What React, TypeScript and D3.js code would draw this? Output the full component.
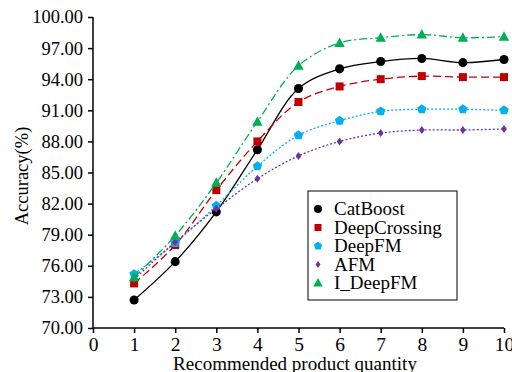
import React, { useEffect, useRef } from 'react';
import * as d3 from 'd3';

const quantities = [1, 2, 3, 4, 5, 6, 7, 8, 9, 10];
const catBoost = [72.7, 76.4, 81.2, 87.2, 93.1, 95.0, 95.7, 96.0, 95.6, 95.9];
const deepCrossing = [74.3, 78.0, 83.3, 88.0, 91.8, 93.3, 94.0, 94.3, 94.2, 94.2];
const deepFM = [75.2, 78.2, 81.8, 85.6, 88.6, 90.0, 90.9, 91.1, 91.1, 91.0];
const afm = [74.7, 78.3, 81.5, 84.4, 86.6, 88.0, 88.8, 89.1, 89.1, 89.2];
const iDeepFM = [74.9, 78.9, 84.0, 89.9, 95.3, 97.5, 98.0, 98.3, 98.0, 98.1];
const seriesNames = ['CatBoost', 'DeepCrossing', 'DeepFM', 'AFM', 'I_DeepFM'];
const xTicks = [0, 1, 2, 3, 4, 5, 6, 7, 8, 9, 10];
const yTicks = [70, 73, 76, 79, 82, 85, 88, 91, 94, 97, 100];

const FONT = '"Liberation Serif", "Times New Roman", serif';

// marker path generators, centred on 0,0
function markerPath(kind: string, s: number) {
  if (kind === 'circle') return d3.symbol(d3.symbolCircle, s * s * 0.8)();
  if (kind === 'square') return `M${-s / 2},${-s / 2}h${s}v${s}h${-s}Z`;
  if (kind === 'pentagon') {
    const pts = d3.range(5).map(i => {
      const a = -Math.PI / 2 + (i * 2 * Math.PI) / 5;
      return [Math.cos(a) * s * 0.55, Math.sin(a) * s * 0.55];
    });
    return 'M' + pts.map(p => p.join(',')).join('L') + 'Z';
  }
  if (kind === 'diamond') return `M0,${-s * 0.5}L${s * 0.36},0L0,${s * 0.5}L${-s * 0.36},0Z`;
  // triangle
  return `M0,${-s * 0.55}L${s * 0.52},${s * 0.4}L${-s * 0.52},${s * 0.4}Z`;
}

export default function App() {
  const ref = useRef<SVGSVGElement>(null);
  const width = 512;
  const height = 372;

  useEffect(() => {
    const svg = d3.select(ref.current);
    svg.selectAll('*').remove();

    const x = d3.scaleLinear().domain([0, 10]).range([93, 504]);
    const y = d3.scaleLinear().domain([70, 100]).range([328, 17]);

    const series = [
      { name: seriesNames[0], values: catBoost, color: '#000000', dash: null, marker: 'circle', size: 9 },
      { name: seriesNames[1], values: deepCrossing, color: '#c00000', dash: '8,4', marker: 'square', size: 8 },
      { name: seriesNames[2], values: deepFM, color: '#00b0f0', dash: '2,2', marker: 'pentagon', size: 9 },
      { name: seriesNames[3], values: afm, color: '#7030a0', dash: '2,2', marker: 'diamond', size: 8 },
      { name: seriesNames[4], values: iDeepFM, color: '#00b050', dash: '8,3,2,3', marker: 'triangle', size: 10 },
    ];

    // axes
    const yAxis = svg.append('g')
      .attr('transform', `translate(${x(0)},0)`)
      .call(d3.axisLeft(y).tickValues(yTicks).tickFormat(d3.format('.2f')).tickSize(5).tickPadding(5));
    const xAxis = svg.append('g')
      .attr('transform', `translate(0,${y(70)})`)
      .call(d3.axisBottom(x).tickValues(xTicks).tickFormat(d3.format('d')).tickSize(5).tickPadding(4));

    [yAxis, xAxis].forEach(g => {
      g.select('.domain').attr('stroke', '#000').attr('stroke-width', 1.5);
      g.selectAll('.tick line').attr('stroke', '#000').attr('stroke-width', 1.5);
      g.selectAll('.tick text')
        .attr('fill', '#000')
        .attr('font-family', FONT)
        .attr('font-size', '18.5px');
    });
    xAxis.selectAll('.tick text').attr('font-size', '19.5px');
    yAxis.select('.domain').attr('d', `M0,${y(100)}V${y(70)}`);
    xAxis.select('.domain').attr('d', `M${x(0)},0H${x(10)}`);

    // axis titles
    svg.append('text')
      .attr('x', 295)
      .attr('y', 370)
      .attr('text-anchor', 'middle')
      .attr('font-family', FONT)
      .attr('font-size', '19px')
      .text('Recommended product quantity');

    svg.append('text')
      .attr('transform', 'translate(28,176) rotate(-90)')
      .attr('text-anchor', 'middle')
      .attr('font-family', FONT)
      .attr('font-size', '18.5px')
      .text('Accuracy(%)');

    const line = d3.line<number>()
      .x((d, i) => x(quantities[i]))
      .y(d => y(d))
      .curve(d3.curveCatmullRom.alpha(0.5));

    series.forEach(s => {
      svg.append('path')
        .attr('d', line(s.values))
        .attr('fill', 'none')
        .attr('stroke', s.color)
        .attr('stroke-width', 1.3)
        .attr('stroke-dasharray', s.dash);

      svg.append('g').selectAll('path')
        .data(s.values)
        .join('path')
        .attr('transform', (d, i) => `translate(${x(quantities[i])},${y(d)})`)
        .attr('d', markerPath(s.marker, s.size))
        .attr('fill', s.color);
    });

    // legend
    const legend = svg.append('g');
    legend.append('rect')
      .attr('x', 308)
      .attr('y', 191)
      .attr('width', 149)
      .attr('height', 109)
      .attr('fill', '#fff')
      .attr('stroke', '#000')
      .attr('stroke-width', 1);

    series.forEach((s, i) => {
      const ly = 209 + i * 18.5;
      legend.append('path')
        .attr('transform', `translate(318,${ly})`)
        .attr('d', markerPath(s.marker, s.size - 1))
        .attr('fill', s.color);
      legend.append('text')
        .attr('x', 334)
        .attr('y', ly)
        .attr('dy', '0.33em')
        .attr('font-family', FONT)
        .attr('font-size', '19px')
        .text(s.name);
    });
  }, []);

  return (
    <svg
      ref={ref}
      width={width}
      height={height}
      style={{ position: 'absolute', left: 0, top: 0, background: '#fff', overflow: 'hidden' }}
    />
  );
}
